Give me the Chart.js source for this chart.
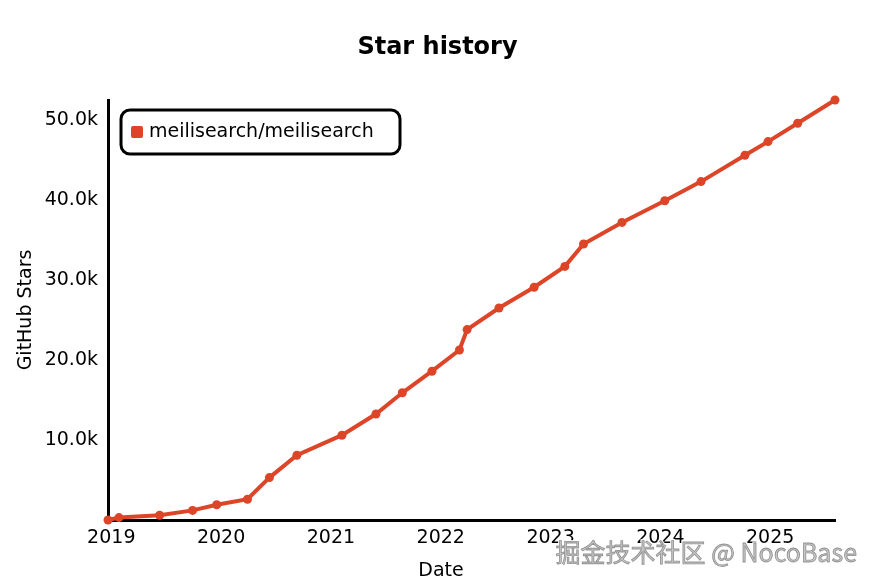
<!DOCTYPE html>
<html>
<head>
<meta charset="utf-8">
<script src="https://cdn.jsdelivr.net/npm/chart.js@4"></script>
<style>
  html, body { margin: 0; padding: 0; background: #fff; }
  #wrap { width: 875px; height: 584px; position: relative; }
</style>
</head>
<body>
<div id="wrap"><canvas id="c" width="875" height="584"></canvas></div>
<script>
// ---- data ----
const seriesName = "meilisearch/meilisearch";
const dates = [2018.97, 2019.07, 2019.44, 2019.74, 2019.96, 2020.24, 2020.44, 2020.69, 2021.10, 2021.41, 2021.65, 2021.92, 2022.17, 2022.24, 2022.53, 2022.85, 2023.13, 2023.30, 2023.65, 2024.04, 2024.37, 2024.77, 2024.98, 2025.25, 2025.59];
const stars = [0, 300, 600, 1200, 1900, 2600, 5300, 8100, 10600, 13250, 15900, 18600, 21250, 23800, 26500, 29100, 31700, 34500, 37200, 39900, 42300, 45600, 47300, 49600, 52500];
const yearTicks = [2019, 2020, 2021, 2022, 2023, 2024, 2025];
const starTicks = [10000, 20000, 30000, 40000, 50000];
const xTitle = "Date";
const watermark = "掘金技术社区 @ NocoBase";

const FONT = "'DejaVu Sans', sans-serif";
const RED = "#dd4528";

const legendPlugin = {
  id: 'boxLegend',
  afterDraw(chart) {
    const ctx = chart.ctx;
    const ds = chart.data.datasets[0];
    const x = 121, y = 110, w = 279, h = 44, r = 9;
    ctx.save();
    ctx.lineWidth = 3;
    ctx.strokeStyle = '#000';
    ctx.fillStyle = '#fff';
    ctx.beginPath();
    ctx.roundRect(x, y, w, h, r);
    ctx.fill();
    ctx.stroke();
    ctx.fillStyle = ds.borderColor;
    ctx.beginPath();
    ctx.roundRect(131, 126, 12, 12, 2);
    ctx.fill();
    ctx.fillStyle = '#000';
    ctx.font = "19px " + FONT;
    ctx.textBaseline = 'middle';
    ctx.textAlign = 'left';
    ctx.fillText(ds.label, 149, 132);
    ctx.restore();
  }
};

const extrasPlugin = {
  id: 'extras',
  afterDraw(chart) {
    const ctx = chart.ctx;
    ctx.save();
    // x-axis title, centred on the canvas like the reference
    ctx.font = "19px " + FONT;
    ctx.fillStyle = '#000';
    ctx.textAlign = 'center';
    ctx.textBaseline = 'middle';
    ctx.fillText(xTitle, 441, 571);
    // watermark
    ctx.font = "25px 'Noto Sans CJK SC', sans-serif";
    ctx.textAlign = 'right';
    ctx.lineWidth = 3;
    ctx.strokeStyle = 'rgba(255,255,255,0.9)';
    ctx.strokeText(watermark, 857, 552);
    ctx.fillStyle = 'rgba(200,200,200,1)';
    ctx.fillText(watermark, 857, 552);
    ctx.lineWidth = 0.8;
    ctx.strokeStyle = 'rgba(110,110,110,0.7)';
    ctx.strokeText(watermark, 857, 552);
    ctx.restore();
  }
};

new Chart(document.getElementById('c'), {
  type: 'line',
  data: {
    datasets: [{
      label: seriesName,
      data: dates.map((d, i) => ({ x: d, y: stars[i] })),
      borderColor: RED,
      backgroundColor: RED,
      borderWidth: 4,
      pointRadius: 4.5,
      pointHoverRadius: 4.5,
      pointBackgroundColor: RED,
      pointBorderWidth: 0,
      tension: 0,
      clip: false
    }]
  },
  options: {
    responsive: false,
    animation: false,
    events: [],
    layout: { padding: { left: 0, right: 0, top: 0, bottom: 0 } },
    plugins: {
      legend: { display: false },
      tooltip: { enabled: false },
      title: {
        display: true,
        text: 'Star history',
        color: '#000',
        font: { family: FONT, size: 24, weight: 'bold' },
        padding: { top: 33, bottom: 38.2 }
      }
    },
    scales: {
      x: {
        type: 'linear',
        min: dates[0],
        max: dates[dates.length - 1],
        afterBuildTicks(scale) { scale.ticks = yearTicks.map(v => ({ value: v })); },
        afterFit(scale) { scale.height = 64; },
        grid: { display: false, drawTicks: false },
        border: { display: true, color: '#000', width: 3 },
        ticks: {
          color: '#000',
          font: { family: FONT, size: 19 },
          padding: 7,
          maxRotation: 0,
          autoSkip: false,
          callback: v => String(v)
        },
        title: { display: false }
      },
      y: {
        min: 0,
        max: Math.max(...stars),
        afterBuildTicks(scale) { scale.ticks = starTicks.map(v => ({ value: v })); },
        afterFit(scale) { scale.width = 108; },
        grid: { display: false, drawTicks: false },
        border: { display: true, color: '#000', width: 3 },
        ticks: {
          color: '#000',
          font: { family: FONT, size: 19 },
          padding: 10,
          callback: v => (v / 1000).toFixed(1) + 'k'
        },
        title: {
          display: true,
          text: 'GitHub Stars',
          color: '#000',
          font: { family: FONT, size: 19 },
          padding: { top: 15, bottom: 0 }
        }
      },
      yRight: {
        position: 'right',
        display: true,
        afterFit(scale) { scale.width = 40; },
        grid: { display: false, drawTicks: false },
        border: { display: false },
        ticks: { display: false }
      }
    }
  },
  plugins: [legendPlugin, extrasPlugin]
});
</script>
</body>
</html>
